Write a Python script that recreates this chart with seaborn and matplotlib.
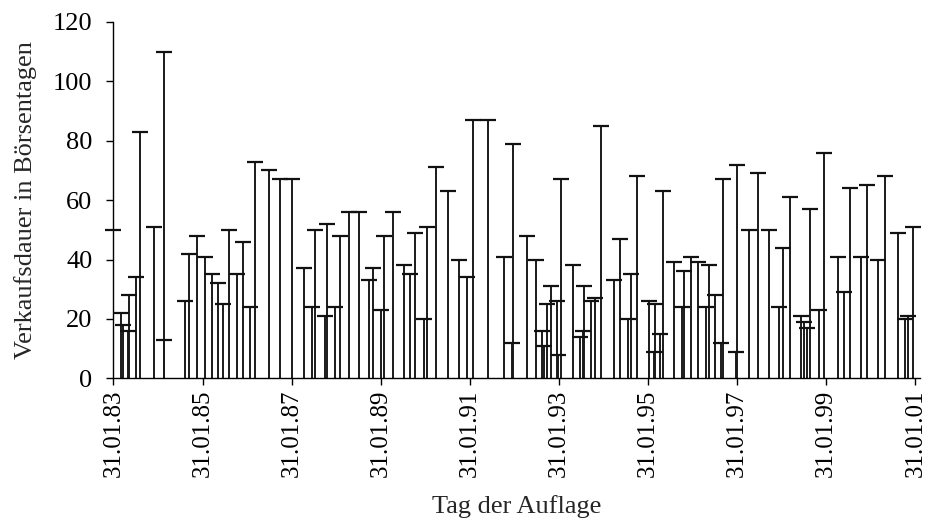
import matplotlib
matplotlib.use('Agg')
import matplotlib.pyplot as plt
import matplotlib.dates as mdates
import pandas as pd
import seaborn as sns

sns.set_style('ticks')
plt.rcParams['font.family'] = ['Liberation Serif', 'DejaVu Serif']

# Tag der Auflage
dates = [
    '1983-01-31', '1983-04-03', '1983-04-20', '1983-06-03', '1983-06-12', '1983-08-04',
    '1983-09-06', '1983-12-29', '1984-03-20', '1984-03-22', '1984-09-06', '1984-10-12',
    '1984-12-18', '1985-02-18', '1985-04-21', '1985-06-07', '1985-07-18', '1985-09-02',
    '1985-11-09', '1985-12-28', '1986-02-26', '1986-04-08', '1986-08-01', '1986-10-30',
    '1987-02-03', '1987-05-15', '1987-07-17', '1987-08-13', '1987-10-29', '1987-11-19',
    '1988-01-23', '1988-03-05', '1988-05-13', '1988-08-05', '1988-10-24', '1988-11-28',
    '1989-02-01', '1989-02-27', '1989-05-11', '1989-08-09', '1989-09-25', '1989-11-05',
    '1990-01-20', '1990-02-11', '1990-05-01', '1990-08-05', '1990-11-03', '1991-01-05',
    '1991-02-26', '1991-07-01', '1991-11-07', '1992-01-09', '1992-01-22', '1992-05-11',
    '1992-07-24', '1992-09-16', '1992-09-30', '1992-10-22', '1992-11-23', '1993-01-17',
    '1993-01-27', '1993-02-19', '1993-05-28', '1993-07-22', '1993-08-13', '1993-08-26',
    '1993-10-18', '1993-11-24', '1994-01-08', '1994-04-27', '1994-06-15', '1994-08-22',
    '1994-09-13', '1994-11-04', '1995-02-10', '1995-03-20', '1995-03-29', '1995-05-08',
    '1995-06-04', '1995-08-31', '1995-11-02', '1995-11-21', '1996-01-18', '1996-03-18',
    '1996-05-19', '1996-06-15', '1996-08-03', '1996-09-19', '1996-10-03', '1997-01-21',
    '1997-01-27', '1997-05-10', '1997-07-18', '1997-10-16', '1998-01-06', '1998-02-08',
    '1998-04-11', '1998-07-10', '1998-08-01', '1998-08-26', '1998-09-22', '1998-11-30',
    '1999-01-14', '1999-05-04', '1999-06-22', '1999-08-15', '1999-11-14', '1999-12-30',
    '2000-03-30', '2000-05-29', '2000-09-08', '2000-11-09', '2000-12-01', '2001-01-11',
]

# Verkaufsdauer in Boersentagen
days = [
    50, 22, 18, 16, 28, 34,
    83, 51, 13, 110, 26, 42,
    48, 41, 35, 32, 25, 50,
    35, 46, 24, 73, 70, 67,
    67, 37, 24, 50, 21, 52,
    24, 48, 56, 56, 33, 37,
    23, 48, 56, 38, 35, 49,
    20, 51, 71, 63, 40, 34,
    87, 87, 41, 12, 79, 48,
    40, 16, 11, 25, 31, 26,
    8, 67, 38, 14, 16, 31,
    26, 27, 85, 33, 47, 20,
    35, 68, 26, 9, 25, 15,
    63, 39, 24, 36, 41, 39,
    24, 38, 28, 12, 67, 9,
    72, 50, 69, 50, 24, 44,
    61, 21, 19, 17, 57, 23,
    76, 41, 29, 64, 41, 65,
    40, 68, 49, 20, 21, 51,
]

tick_dates = ['1983-01-31', '1985-01-31', '1987-01-31', '1989-01-31', '1991-01-31',
              '1993-01-31', '1995-01-31', '1997-01-31', '1999-01-31', '2001-01-31']
y_ticks = [0, 20, 40, 60, 80, 100, 120]

df = pd.DataFrame({'date': pd.to_datetime(dates), 'days': days})
ticks = pd.to_datetime(tick_dates)

fig = plt.figure(figsize=(9.26, 5.31), dpi=100)
ax = fig.add_axes([0.1224, 0.2876, 0.8714, 0.671])

ax.vlines(df['date'], 0, df['days'], color='#1a1a1a', linewidth=1.4, zorder=2)
sns.scatterplot(data=df, x='date', y='days', marker='_', s=120, linewidth=1.6,
                color='#111111', edgecolor='#111111', ax=ax, zorder=3, legend=False,
                clip_on=False)

ax.set_xlim(ticks[0], ticks[-1] + pd.Timedelta(days=40))
ax.set_ylim(0, 120)
ax.set_yticks(y_ticks)
ax.set_xticks(ticks)
ax.xaxis.set_major_formatter(mdates.DateFormatter('%d.%m.%y'))
plt.setp(ax.get_xticklabels(), rotation=90)

ax.tick_params(axis='both', direction='out', length=5, width=1,
               color='black', labelcolor='black')
ax.tick_params(axis='y', labelsize=19, pad=10)
ax.tick_params(axis='x', labelsize=18, pad=3)
ax.set_ylabel('Verkaufsdauer in Börsentagen', fontsize=19)
ax.set_xlabel('Tag der Auflage', fontsize=19)
ax.yaxis.set_label_coords(-0.109, 0.5)
ax.yaxis.label.set_va('center')
ax.xaxis.set_label_coords(0.5, -0.361)
ax.xaxis.label.set_va('center')

sns.despine(ax=ax)
for side in ['left', 'bottom']:
    ax.spines[side].set_color('black')
    ax.spines[side].set_linewidth(1)
ax.grid(False)

fig.savefig('out.png', dpi=100)
